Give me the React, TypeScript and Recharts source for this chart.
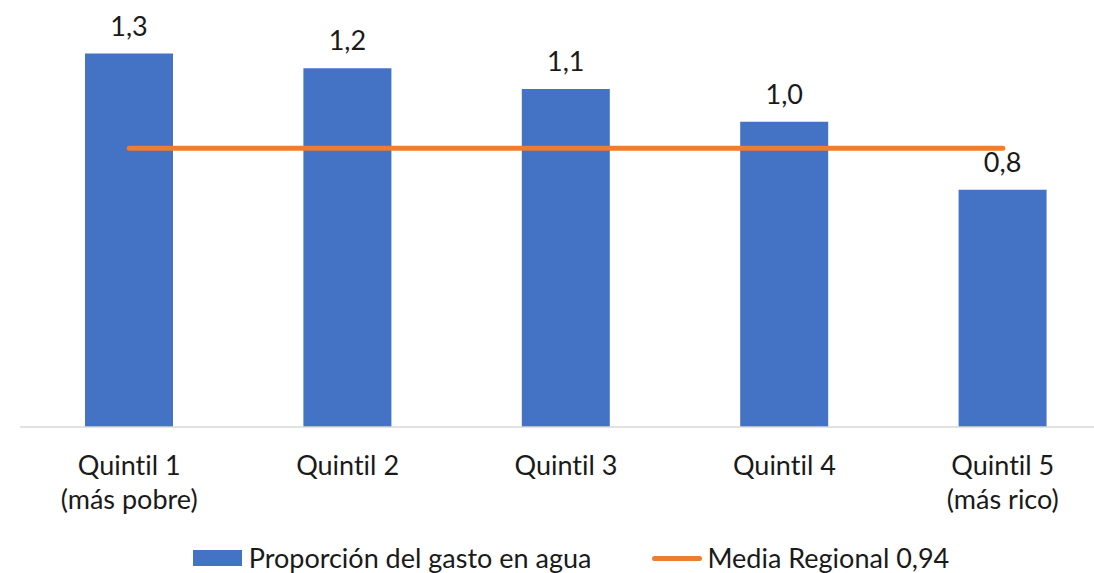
import React from 'react';
import { ComposedChart, Bar, Line, XAxis, YAxis, Legend, LabelList } from 'recharts';

const quintiles = ['Quintil 1\n(más pobre)', 'Quintil 2', 'Quintil 3', 'Quintil 4', 'Quintil 5\n(más rico)'];
const gastoAgua = [1.26, 1.21, 1.14, 1.03, 0.8];
const mediaRegional = [0.94, 0.94, 0.94, 0.94, 0.94];

const data = quintiles.map((q, i) => ({ name: q, gasto: gastoAgua[i], media: mediaRegional[i] }));

const FONT = 'Lato, "Open Sans", sans-serif';
const TEXT = '#1a1a1a';
const SIZE = 27;

function QuintilTick({ x, y, payload }: any) {
  const lines = String(payload.value).split('\n');
  return (
    <text x={x} y={y} textAnchor="middle" fill={TEXT} fontSize={SIZE} fontFamily={FONT} style={{ fontVariantLigatures: 'none' }}>
      {lines.map((l, i) => (
        <tspan key={i} x={x} dy={i === 0 ? 40 : 34}>{l}</tspan>
      ))}
    </text>
  );
}

function LegendContent() {
  return (
    <div style={{ display: 'flex', justifyContent: 'center', alignItems: 'center', fontFamily: FONT, fontSize: SIZE, color: TEXT, lineHeight: '30px', fontVariantLigatures: 'none', paddingLeft: 10 }}>
      <span style={{ display: 'inline-block', width: 49, height: 16, background: '#4472C4', marginRight: 7 }} />
      <span>Proporción del gasto en agua</span>
      <span style={{ display: 'inline-block', width: 50, height: 5, borderRadius: 3, background: '#ED7D31', marginLeft: 61, marginRight: 5 }} />
      <span>Media Regional 0,94</span>
    </div>
  );
}

export default function App() {
  return (
    <div style={{ position: 'absolute', left: 0, top: 0, width: 1094, height: 573, overflow: 'hidden', background: '#fff', fontFamily: FONT }}>
      <ComposedChart width={1094} height={573} data={data} margin={{ top: 12, right: -18, bottom: 16, left: 20 }}>
        <XAxis
          dataKey="name"
          axisLine={{ stroke: '#D9D9D9', strokeWidth: 1.5 }}
          tickLine={false}
          interval={0}
          height={100}
          tick={<QuintilTick />}
        />
        <YAxis hide domain={[0, 1.4]} />
        <Legend verticalAlign="bottom" content={<LegendContent />} wrapperStyle={{ bottom: 0 }} />
        <Bar dataKey="gasto" fill="#4472C4" barSize={88} isAnimationActive={false}>
          <LabelList
            dataKey="gasto"
            position="top"
            offset={18}
            fill={TEXT}
            fontSize={SIZE}
            fontFamily={FONT}
            formatter={(v: any) => Number(v).toFixed(1).replace('.', ',')}
          />
        </Bar>
        <Line
          dataKey="media"
          stroke="#ED7D31"
          strokeWidth={5}
          strokeLinecap="round"
          dot={false}
          activeDot={false}
          isAnimationActive={false}
        />
      </ComposedChart>
    </div>
  );
}
